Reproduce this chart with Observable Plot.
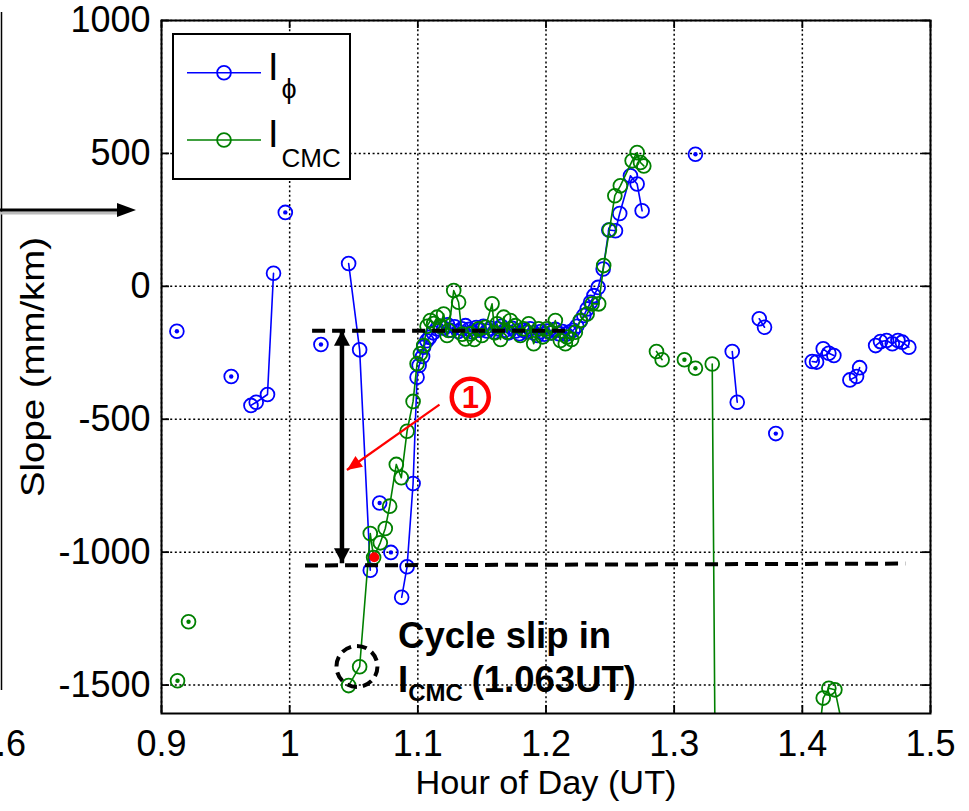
<!DOCTYPE html>
<html><head><meta charset="utf-8">
<script src="https://cdn.jsdelivr.net/npm/d3@7"></script>
<script src="https://cdn.jsdelivr.net/npm/@observablehq/plot@0.6"></script>
<style>
html,body{margin:0;padding:0;background:#fff;}
#chart{position:relative;width:969px;height:811px;overflow:hidden;}
</style></head><body><div id="chart"></div>
<script>
// ---------- axes ----------
const xTickValues = [0.9, 1, 1.1, 1.2, 1.3, 1.4, 1.5];
const yTickValues = [-1500, -1000, -500, 0, 500, 1000];
const xDomain = [0.9, 1.5];
const yDomain = [-1607, 1000];

// ---------- I_phi series (hour of day, slope mm/km); null = gap ----------
const phiHour = [
  0.9120, null,
  0.9544, null,
  0.9698, 0.9739, 0.9827, 0.9874, null,
  0.9966, null,
  1.0244, null,
  1.0460, 1.0546, 1.0629, null,
  1.0702, null,
  1.0790, null,
  1.0874, 1.0916, 1.0963, 1.0994, 1.1010, 1.1037, 1.1045, 1.1070, 1.1092,
  1.1120, 1.1148, 1.1176, 1.1204, 1.1232, 1.1260, 1.1288, 1.1316, 1.1344, 1.1372,
  1.1400, 1.1428, 1.1456, 1.1484, 1.1512, 1.1540, 1.1568, 1.1596, 1.1624, 1.1652,
  1.1680, 1.1708, 1.1736, 1.1764, 1.1792, 1.1820, 1.1848, 1.1876, 1.1904, 1.1932,
  1.1960, 1.1988, 1.2016, 1.2044, 1.2072, 1.2100, 1.2128, 1.2156, 1.2184, 1.2212, 1.2240,
  1.2268, 1.2295, 1.2321, 1.2348, 1.2374, 1.2407, 1.2446, 1.2490, 1.2542, 1.2575, 1.2659, 1.2711, 1.2750, null,
  1.3166, null,
  1.3453, 1.3492, null,
  1.3664, 1.3705, null,
  1.3793, null,
  1.4077, 1.4111, 1.4163, 1.4207, 1.4246, null,
  1.4371, 1.4423, 1.4447, null,
  1.4572, 1.4610, 1.4657, 1.4702, 1.4746, 1.4780, 1.4831
];
const phiSlope = [
  -169, null,
  -339, null,
  -448, -436, -407, 49, null,
  278, null,
  -219, null,
  86, -239, -1068, null,
  -815, null,
  -1001, null,
  -1170, -1055, -742, -342, -298, -264, -229, -205, -192,
  -175, -160, -150, -158, -145, -165, -152, -170, -160, -148,
  -162, -172, -155, -165, -150, -168, -158, -172, -160, -150,
  -165, -175, -158, -168, -178, -165, -172, -160, -175, -185,
  -170, -180, -168, -175, -162, -178, -170, -180, -172, -165, -150,
  -130, -110, -85, -60, -35, -4, 65, 212, 209, 274, 416, 385, 284, null,
  497, null,
  -245, -436, null,
  -122, -154, null,
  -554, null,
  -283, -285, -235, -252, -260, null,
  -352, -339, -306, null,
  -223, -208, -204, -216, -204, -210, -229
];

// ---------- I_CMC series ----------
const cmcHour = [
  0.9125, null,
  0.9211, null,
  1.0460, 1.0546, 1.0629, 1.0655, 1.0707, 1.0746, 1.0780, 1.0832, 1.0871, 1.0916,
  1.0963, 1.0994, 1.1020, 1.1046, 1.1072, 1.1098, 1.1124, 1.1150, 1.1176, 1.1201,
  1.1228, 1.1240, 1.1280, 1.1318, 1.1345, 1.1371, 1.1410, 1.1440, 1.1475, 1.1500,
  1.1527, 1.1579, 1.1600, 1.1618, 1.1645, 1.1670, 1.1696, 1.1722, 1.1761, 1.1800,
  1.1826, 1.1865, 1.1904, 1.1943, 1.1975, 1.2008, 1.2040, 1.2073, 1.2112, 1.2151,
  1.2164, 1.2200, 1.2229, 1.2268, 1.2321, 1.2360, 1.2411, 1.2450, 1.2495, 1.2537,
  1.2580, 1.2672, 1.2711, 1.2737, 1.2763, null,
  1.2862, 1.2906, null,
  1.3080, null,
  1.3166, null,
  1.3297, 1.3323, null,
  1.4137, 1.4163, 1.4207, 1.4254, 1.4324
];
const cmcSlope = [
  -1484, null,
  -1262, null,
  -1502, -1431, -930, -1020, -965, -911, -827, -670, -720, -545,
  -433, -291, -254, -223, -150, -129, -140, -116, -150, -104,
  -185, -166, -16, -60, -180, -198, -179, -200, -160, -185,
  -154, -66, -175, -141, -200, -116, -173, -129, -148, -185,
  -160, -141, -216, -160, -190, -160, -175, -129, -204, -216,
  -191, -200, -173, -129, -104, -66, -66, 78, 212, 341,
  378, 472, 503, 466, 453, null,
  -245, -276, null,
  -276, null,
  -308, null,
  -292, -2000, null,
  -1660, -1549, -1512, -1518, -1680
];

// ---------- annotations (data coordinates) ----------
const levelLines = [
  {x1: 1.0175, y1: -167, x2: 1.2200, y2: -167},
  {x1: 1.0120, y1: -1050, x2: 1.4803, y2: -1043}
];
const rangeArrowHour = [1.0408];
const rangeArrowSlope = [-167, -1042];
const pointerFrom = [1.1169, -445];
const pointerTo = [1.0447, -691];
const badgeCenter = [1.1409, -417];
const slipPoint = [1.0660, -1019];
const slipCircle = [1.0525, -1430];
const noteLine1 = {x: 1.0846, y: -1316, text: "Cycle slip in"};
const noteLine2 = {x: 1.0846, y: -1481, text: "I"};
const noteSub = {x: 1.0925, y: -1530, text: "CMC"};
const noteTail = {x: 1.1420, y: -1481, text: "(1.063UT)"};

// ---------- legend ----------
const legendLabels = ["ϕ", "CMC"];

const phiColor = "#0000ff";
const cmcColor = "#008000";

// ---------- rows ----------
function rows(hs, ss) {
  return hs.map((h, i) => ({x: h, y: ss[i]}));
}
function isolated(hs, ss) {
  const out = [];
  for (let i = 0; i < ss.length; i++) {
    if (ss[i] == null) continue;
    const prev = i > 0 ? ss[i - 1] : null;
    const next = i < ss.length - 1 ? ss[i + 1] : null;
    if (prev == null && next == null) out.push({x: hs[i], y: ss[i]});
  }
  return out;
}
const phiRows = rows(phiHour, phiSlope);
const cmcRows = rows(cmcHour, cmcSlope);
const phiPts = phiRows.filter(d => d.y != null);
const cmcPts = cmcRows.filter(d => d.y != null);

// layout
const W = 969, H = 811, mL = 161, mR = 39, mT = 20, mB = 98;
const kx = (W - mL - mR) / (xDomain[1] - xDomain[0]);
const ky = (H - mT - mB) / (yDomain[1] - yDomain[0]);
const pdx = (pointerTo[0] - pointerFrom[0]) * kx;
const pdy = -(pointerTo[1] - pointerFrom[1]) * ky;
const pointerAngle = Math.atan2(pdx, -pdy) * 180 / Math.PI;

const headBlack = {draw(ctx) { ctx.moveTo(0, 0); ctx.lineTo(-8, 15); ctx.lineTo(8, 15); ctx.closePath(); }};
const headRed = {draw(ctx) { ctx.moveTo(0, 0); ctx.lineTo(-6.5, 15); ctx.lineTo(6.5, 15); ctx.closePath(); }};

const gridStyle = {stroke: "black", strokeOpacity: 1, strokeWidth: 1.5, strokeDasharray: "2,2.6"};
const frameW = W - mL - mR, frameH = H - mT - mB;

const plot = Plot.plot({
  width: W, height: H,
  marginLeft: mL, marginRight: mR, marginTop: mT, marginBottom: mB,
  x: {domain: xDomain, label: null},
  y: {domain: yDomain, label: null},
  style: {fontFamily: "'Liberation Sans', Arial, sans-serif", fontSize: "36px", background: "white", overflow: "visible"},
  marks: [
    Plot.gridX(xTickValues, gridStyle),
    Plot.gridY(yTickValues, gridStyle),
    Plot.ruleX(xTickValues, {insetTop: frameH - 8, stroke: "black", strokeWidth: 1.8}),
    Plot.ruleX(xTickValues, {insetBottom: frameH - 8, stroke: "black", strokeWidth: 1.8}),
    Plot.ruleY(yTickValues, {insetRight: frameW - 8, stroke: "black", strokeWidth: 1.8}),
    Plot.ruleY(yTickValues, {insetLeft: frameW - 8, stroke: "black", strokeWidth: 1.8}),
    // I_phi
    Plot.line(phiRows, {x: "x", y: "y", stroke: phiColor, strokeWidth: 1.6, clip: true}),
    Plot.dot(phiPts, {x: "x", y: "y", r: 6.9, stroke: phiColor, strokeWidth: 1.8, fill: "none", clip: true}),
    Plot.dot(isolated(phiHour, phiSlope), {x: "x", y: "y", r: 2.2, fill: phiColor, clip: true}),
    // I_CMC
    Plot.line(cmcRows, {x: "x", y: "y", stroke: cmcColor, strokeWidth: 1.6, clip: true}),
    Plot.dot(cmcPts, {x: "x", y: "y", r: 6.9, stroke: cmcColor, strokeWidth: 1.8, fill: "none", clip: true}),
    Plot.dot(isolated(cmcHour, cmcSlope), {x: "x", y: "y", r: 2.2, fill: cmcColor, clip: true}),
    // level lines
    Plot.link(levelLines, {x1: "x1", y1: "y1", x2: "x2", y2: "y2", stroke: "black", strokeWidth: 4, strokeDasharray: "13,7"}),
    // double arrow
    Plot.link([0], {x1: () => rangeArrowHour[0], x2: () => rangeArrowHour[0], y1: () => rangeArrowSlope[0], y2: () => rangeArrowSlope[1], stroke: "black", strokeWidth: 4.5, insetTop: 12, insetBottom: 12}),
    Plot.dot([0], {x: () => rangeArrowHour[0], y: () => rangeArrowSlope[0], symbol: headBlack, fill: "black", stroke: "none", rotate: 0}),
    Plot.dot([0], {x: () => rangeArrowHour[0], y: () => rangeArrowSlope[1], symbol: headBlack, fill: "black", stroke: "none", rotate: 180}),
    // red pointer
    Plot.link([0], {x1: () => pointerFrom[0], y1: () => pointerFrom[1], x2: () => pointerTo[0], y2: () => pointerTo[1], stroke: "red", strokeWidth: 2.2}),
    Plot.dot([0], {x: () => pointerTo[0], y: () => pointerTo[1], symbol: headRed, fill: "red", stroke: "none", rotate: pointerAngle}),
    Plot.dot([0], {x: () => badgeCenter[0], y: () => badgeCenter[1], r: 18.5, stroke: "red", strokeWidth: 4.5, fill: "white"}),
    Plot.text(["1"], {x: () => badgeCenter[0], y: () => badgeCenter[1], text: d => d, fill: "red", fontWeight: "bold", fontSize: 31, dy: 1}),
    // cycle slip markers
    Plot.dot([0], {x: () => slipPoint[0], y: () => slipPoint[1], r: 5, fill: "red", stroke: "none"}),
    Plot.dot([0], {x: () => slipCircle[0], y: () => slipCircle[1], r: 20.5, stroke: "black", strokeWidth: 4, strokeDasharray: "10,6", fill: "none"}),
    Plot.text([noteLine1, noteLine2, noteTail], {x: "x", y: "y", text: "text", textAnchor: "start", fontWeight: "bold", fontSize: 36.5, fill: "black"}),
    Plot.text([noteSub], {x: "x", y: "y", text: "text", textAnchor: "start", fontWeight: "bold", fontSize: 24, fill: "black"}),
    Plot.frame({stroke: "black", strokeWidth: 2}),
    Plot.axisX(xTickValues, {anchor: "bottom", tickSize: 0, tickPadding: 17, fontSize: 36, tickFormat: d => String(d), label: null}),
    Plot.axisY(yTickValues, {anchor: "left", tickSize: 0, tickPadding: 11, fontSize: 36, tickFormat: d => String(d), label: null}),
    Plot.text(["Hour of Day (UT)"], {frameAnchor: "bottom", dy: 80, text: d => d, fontSize: 33, textAnchor: "middle", fill: "black"}),
    Plot.text(["Slope (mm/km)"], {frameAnchor: "left", dx: -128, rotate: -90, text: d => d, fontSize: 33, textAnchor: "middle", fill: "black"})
  ]
});
document.getElementById("chart").appendChild(plot);

const svg = d3.select(plot);
svg.selectAll("text").filter(function() { return this.textContent === "Slope (mm/km)"; })
  .attr("textLength", 260).attr("lengthAdjust", "spacingAndGlyphs");
svg.selectAll("text").filter(function() { return this.textContent === "Hour of Day (UT)"; })
  .attr("textLength", 261).attr("lengthAdjust", "spacingAndGlyphs");

// legend
const lg = svg.append("g").attr("font-family", "'Liberation Sans', Arial, sans-serif").attr("text-anchor", "start");
lg.append("rect").attr("x", 173).attr("y", 34).attr("width", 177).attr("height", 145)
  .attr("fill", "white").attr("stroke", "black").attr("stroke-width", 2);
const legendItems = [
  {color: phiColor, y: 72.7, sub: legendLabels[0], subSize: 27, subShift: 18},
  {color: cmcColor, y: 140, sub: legendLabels[1], subSize: 26, subShift: 20}
];
legendItems.forEach(it => {
  lg.append("line").attr("x1", 187).attr("x2", 261).attr("y1", it.y).attr("y2", it.y)
    .attr("stroke", it.color).attr("stroke-width", 1.6);
  lg.append("circle").attr("cx", 224).attr("cy", it.y).attr("r", 6.9)
    .attr("fill", "none").attr("stroke", it.color).attr("stroke-width", 1.8);
  const t = lg.append("text").attr("x", 268).attr("y", it.y + 7).attr("font-size", 38).attr("text-anchor", "start");
  t.append("tspan").text("I");
  t.append("tspan").attr("dx", 3).attr("dy", it.subShift).attr("font-size", it.subSize).text(it.sub);
});

// neighbouring-panel remnants at the left edge
const ed = svg.append("g");
ed.append("line").attr("x1", 1.5).attr("x2", 1.5).attr("y1", 12).attr("y2", 690).attr("stroke", "black").attr("stroke-width", 1.5);
ed.append("line").attr("x1", 0).attr("x2", 121).attr("y1", 213).attr("y2", 213).attr("stroke", "#bbb").attr("stroke-width", 3);
ed.append("line").attr("x1", 0).attr("x2", 120).attr("y1", 210).attr("y2", 210).attr("stroke", "black").attr("stroke-width", 3);
ed.append("path").attr("d", "M117,203L136,210L117,217Z").attr("fill", "black");
ed.append("text").attr("x", 26).attr("y", 756).attr("text-anchor", "end").attr("font-size", 36)
  .attr("font-family", "'Liberation Sans', Arial, sans-serif").text("1.6");
</script>
</body></html>
